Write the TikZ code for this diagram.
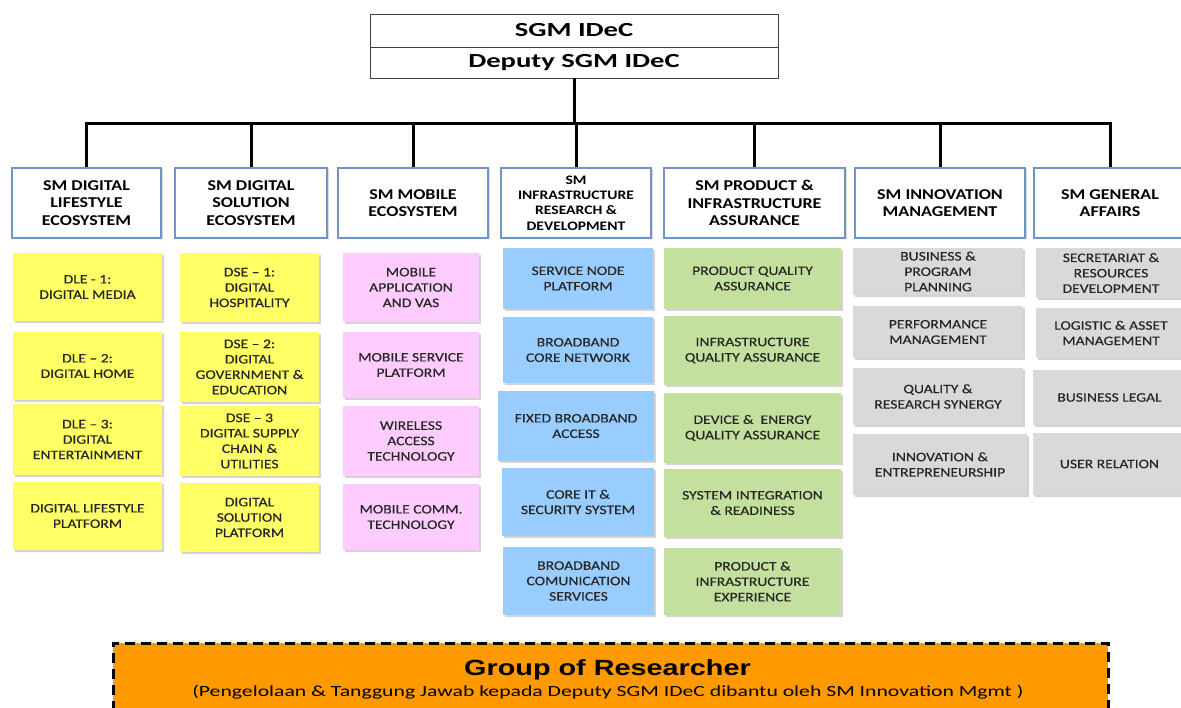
\documentclass[tikz,border=0pt]{standalone}
\usepackage{fontspec}
\setmainfont{Carlito}[FakeStretch=1.2]
\newfontfamily\unitfont{Carlito}[FakeStretch=1.2, FakeBold=0.35, Ligatures=TeX]
\newfontfamily\topfont{Carlito}[FakeStretch=1.43]
\newfontfamily\grpfont{Liberation Sans}[FakeStretch=1.31]
\newfontfamily\subfont{Carlito}[FakeStretch=1.4]
\usetikzlibrary{shadows}
\definecolor{hdrblue}{RGB}{112,148,200}
\definecolor{uyellow}{RGB}{255,255,102}
\definecolor{upink}{RGB}{255,204,255}
\definecolor{ublue}{RGB}{153,204,255}
\definecolor{ugreen}{RGB}{196,224,158}
\definecolor{ugray}{RGB}{217,217,217}
\definecolor{uorange}{RGB}{255,153,0}
\tikzset{
  topcell/.style={draw=black!75, line width=0.8pt, fill=white, inner sep=0pt,
    minimum width=408pt, font=\topfont\bfseries\fontsize{20}{22}\selectfont},
  hdr/.style={draw=hdrblue, line width=1.2pt, fill=white, inner sep=0pt, align=center,
    minimum height=70pt, font=\bfseries\fontsize{15}{17.7}\selectfont,
    drop shadow={shadow xshift=1.5pt, shadow yshift=-1.5pt, opacity=0.3}},
  unit/.style={inner sep=0pt, align=center, text=black!85,
    font=\unitfont\fontsize{13}{15.4}\selectfont,
    drop shadow={shadow xshift=1.5pt, shadow yshift=-2pt, opacity=0.35}},
  ybox/.style={unit, fill=uyellow},
  pbox/.style={unit, fill=upink},
  bbox/.style={unit, fill=ublue},
  gbox/.style={unit, fill=ugreen},
  rbox/.style={unit, fill=ugray},
  conn/.style={draw=black, line width=3pt},
}
\begin{document}
\begin{tikzpicture}[x=1pt, y=-1pt]
\useasboundingbox (0,0) rectangle (1181,708);
% top
\node[topcell, minimum height=33pt] (sgm) at (574,30.5) {SGM IDeC};
\node[topcell, minimum height=31pt] (dep) at (574,62.5) {Deputy SGM IDeC};
% headers
\node[hdr, minimum width=149pt] (h1) at (86.5,203) {SM DIGITAL\\LIFESTYLE\\ECOSYSTEM};
\node[hdr, minimum width=152pt] (h2) at (251,203) {SM DIGITAL\\SOLUTION\\ECOSYSTEM};
\node[hdr, minimum width=150pt] (h3) at (413,203) {SM MOBILE\\ECOSYSTEM};
\node[hdr, minimum width=150pt, font=\bfseries\fontsize{13}{15.4}\selectfont] (h4) at (576,203) {SM\\INFRASTRUCTURE\\RESEARCH \&\\DEVELOPMENT};
\node[hdr, minimum width=181pt] (h5) at (754.5,203) {SM PRODUCT \&\\INFRASTRUCTURE\\ASSURANCE};
\node[hdr, minimum width=170pt] (h6) at (940,203) {SM INNOVATION\\MANAGEMENT};
\node[hdr, minimum width=152pt] (h7) at (1110,203) {SM GENERAL\\AFFAIRS};
% connectors
\coordinate (bar) at (574,124);
\draw[conn] (dep.south) -- (bar);
\foreach \h in {h1,h2,h3,h4,h5,h6,h7} \draw[conn] (\h.north) |- (bar);
% yellow 1
\node[ybox, minimum width=149pt, minimum height=68pt] (y1) at (87.5,287) {DLE - 1:\\DIGITAL MEDIA};
\node[ybox, minimum width=149pt, minimum height=68pt] (y2) at (87.5,366) {DLE – 2:\\DIGITAL HOME};
\node[ybox, minimum width=149pt, minimum height=71pt] (y3) at (87.5,439.5) {DLE – 3:\\DIGITAL\\ENTERTAINMENT};
\node[ybox, minimum width=149pt, minimum height=68pt] (y4) at (87.5,516) {DIGITAL LIFESTYLE\\PLATFORM};
% yellow 2
\node[ybox, minimum width=139pt, minimum height=69pt] (s1) at (249.5,287.5) {DSE – 1:\\DIGITAL\\HOSPITALITY};
\node[ybox, minimum width=139pt, minimum height=70pt] (s2) at (249.5,367) {DSE – 2:\\DIGITAL\\GOVERNMENT \&\\EDUCATION};
\node[ybox, minimum width=139pt, minimum height=70pt] (s3) at (249.5,441) {DSE – 3\\DIGITAL SUPPLY\\CHAIN \&\\UTILITIES};
\node[ybox, minimum width=139pt, minimum height=69pt] (s4) at (249.5,517.5) {DIGITAL\\SOLUTION\\PLATFORM};
% pink
\node[pbox, minimum width=136pt, minimum height=69pt] (m1) at (411,287.5) {MOBILE\\APPLICATION\\AND VAS};
\node[pbox, minimum width=136pt, minimum height=66pt] (m2) at (411,365) {MOBILE SERVICE\\PLATFORM};
\node[pbox, minimum width=136pt, minimum height=70pt] (m3) at (411,441) {WIRELESS\\ACCESS\\TECHNOLOGY};
\node[pbox, minimum width=136pt, minimum height=66pt] (m4) at (411,517) {MOBILE COMM.\\TECHNOLOGY};
% blue
\node[bbox, minimum width=150pt, minimum height=61pt] (b1) at (578,278.5) {SERVICE NODE\\PLATFORM};
\node[bbox, minimum width=150pt, minimum height=66pt] (b2) at (578,350) {BROADBAND\\CORE NETWORK};
\node[bbox, minimum width=156pt, minimum height=70pt] (b3) at (576,426) {FIXED BROADBAND\\ACCESS};
\node[bbox, minimum width=152pt, minimum height=68pt] (b4) at (578,502) {CORE IT \&\\SECURITY SYSTEM};
\node[bbox, minimum width=151pt, minimum height=68pt] (b5) at (578.5,581) {BROADBAND\\COMUNICATION\\SERVICES};
% green
\node[gbox, minimum width=177pt, minimum height=61pt] (g1) at (752.5,278.5) {PRODUCT QUALITY\\ASSURANCE};
\node[gbox, minimum width=177pt, minimum height=69pt] (g2) at (752.5,350.5) {INFRASTRUCTURE\\QUALITY ASSURANCE};
\node[gbox, minimum width=177pt, minimum height=70pt] (g3) at (752.5,428) {DEVICE \&\ \ ENERGY\\QUALITY ASSURANCE};
\node[gbox, minimum width=177pt, minimum height=68pt] (g4) at (752.5,503) {SYSTEM INTEGRATION\\\& READINESS};
\node[gbox, minimum width=177pt, minimum height=67pt] (g5) at (752.5,581.5) {PRODUCT \&\\INFRASTRUCTURE\\EXPERIENCE};
% gray 1
\node[rbox, minimum width=170pt, minimum height=47pt] (r1) at (938,271.5) {BUSINESS \&\\PROGRAM\\PLANNING};
\node[rbox, minimum width=170pt, minimum height=52pt] (r2) at (938,332) {PERFORMANCE\\MANAGEMENT};
\node[rbox, minimum width=170pt, minimum height=57pt] (r3) at (938,396.5) {QUALITY \&\\RESEARCH SYNERGY};
\node[rbox, minimum width=174pt, minimum height=61pt] (r4) at (940,464.5) {INNOVATION \&\\ENTREPRENEURSHIP};
% gray 2
\node[rbox, minimum width=150pt, minimum height=50pt] (q1) at (1111,273) {SECRETARIAT \&\\RESOURCES\\DEVELOPMENT};
\node[rbox, minimum width=150pt, minimum height=50pt] (q2) at (1111,333) {LOGISTIC \& ASSET\\MANAGEMENT};
\node[rbox, minimum width=153pt, minimum height=55pt] (q3) at (1109.5,397.5) {BUSINESS LEGAL};
\node[rbox, minimum width=153pt, minimum height=62pt] (q4) at (1109.5,464) {USER RELATION};
% group of researcher
\node[draw=black, line width=3pt, dash pattern=on 10pt off 6pt, fill=uorange,
      minimum width=995pt, minimum height=80pt, inner sep=0pt] (grp) at (610.5,683) {};
\node[anchor=base, inner sep=0pt, font=\grpfont\bfseries\fontsize{22}{24}\selectfont] (grpt) at (607.5,675) {Group of Researcher};
\node[anchor=base, inner sep=0pt, font=\subfont\fontsize{15.5}{17}\selectfont] (grps) at (608,696) {(Pengelolaan \& Tanggung Jawab kepada Deputy SGM IDeC dibantu oleh SM Innovation Mgmt )};
\end{tikzpicture}
\end{document}
